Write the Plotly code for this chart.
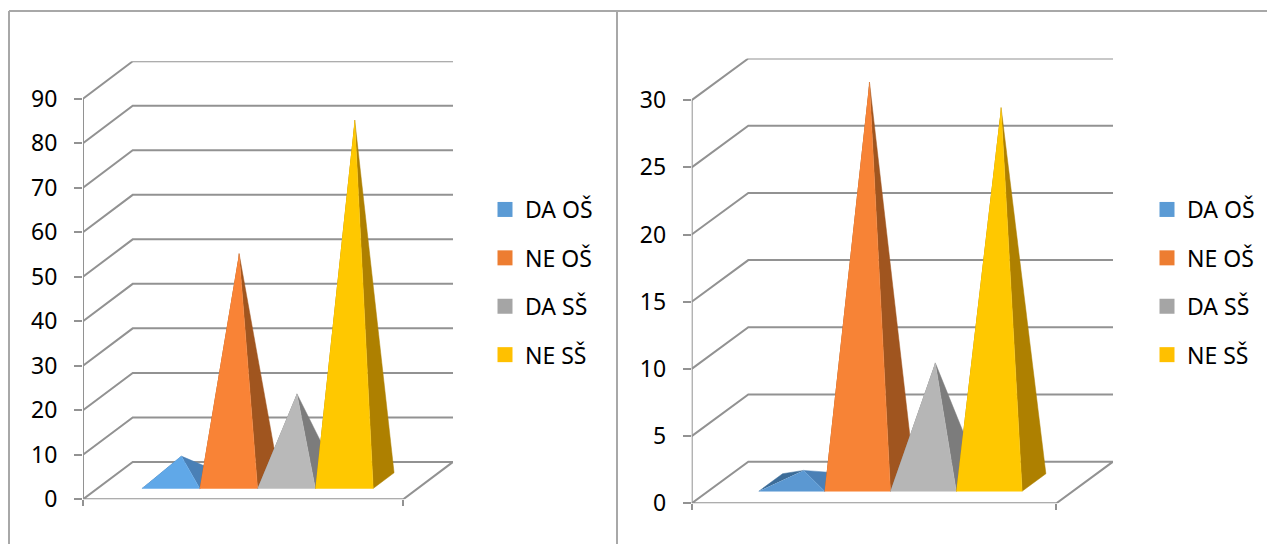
import plotly.graph_objects as go

W, H = 1267, 544

series_names = ["DA OŠ", "NE OŠ", "DA SŠ", "NE SŠ"]
left_values = [5.5, 51, 19.5, 81]
right_values = [0.9, 29.8, 8.9, 27.9]
left_ticks = [0, 10, 20, 30, 40, 50, 60, 70, 80, 90]
right_ticks = [0, 5, 10, 15, 20, 25, 30]

front_colors_left = ["#60A8E8", "#F98336", "#B9B9B9", "#FFC800"]
front_colors_right = ["#5B98D2", "#F78336", "#B6B6B6", "#FFC800"]
side_colors = ["#4A80B6", "#A0551F", "#7C7C7C", "#AE8000"]
left_face_colors = ["#3C6C98", "#A0551F", "#7C7C7C", "#AE8000"]
legend_colors = ["#5B9BD5", "#ED7D31", "#A5A5A5", "#FFC000"]

GRID = "#929292"
FRAME = "#A8A8A8"
FONT = "Noto Sans"
TICK_SIZE = 23
GAP = 0.77
D_FRONT, D_BACK = 0.29, 0.71
DEPTH_X = 0.86
N = len(series_names)
FLOOR = 2 * GAP + N

fig = go.Figure()


def add_chart(idx, values, ticks, dom_x, dom_y, depth_v, front_colors, legend_pos):
    sfx = "" if idx == 1 else str(idx)
    xa, ya = "x" + sfx, "y" + sfx
    legend = "legend" + sfx
    top = ticks[-1]

    def px(c, d):
        return c + d * DEPTH_X

    def py(v, d):
        return v + d * depth_v

    def line(xs, ys):
        fig.add_trace(go.Scatter(x=xs, y=ys, xaxis=xa, yaxis=ya, mode="lines",
                                 line=dict(color=GRID, width=2), hoverinfo="skip",
                                 showlegend=False, cliponaxis=False))

    # walls
    for t in ticks[1:]:
        line([px(0, 0), px(0, 1), px(FLOOR, 1)], [py(t, 0), py(t, 1), py(t, 1)])
    # vertical front axis and floor
    line([px(0, 0), px(0, 0)], [0, top])
    line([px(0, 0), px(FLOOR, 0), px(FLOOR, 1), px(0, 1), px(0, 0)],
         [py(0, 0), py(0, 0), py(0, 1), py(0, 1), py(0, 0)])

    def face(xs, ys, color):
        fig.add_trace(go.Scatter(x=xs, y=ys, xaxis=xa, yaxis=ya, mode="lines",
                                 fill="toself", fillcolor=color,
                                 line=dict(color=color, width=0.5), hoverinfo="skip",
                                 showlegend=False, cliponaxis=False))

    for i, v in enumerate(values):
        c0, c1 = GAP + i, GAP + i + 1
        ax, ay = px((c0 + c1) / 2, 0.5), py(v, 0.5)
        face([px(c0, D_FRONT), px(c0, D_BACK), ax],
             [py(0, D_FRONT), py(0, D_BACK), ay], left_face_colors[i])
        face([px(c1, D_FRONT), px(c1, D_BACK), ax],
             [py(0, D_FRONT), py(0, D_BACK), ay], side_colors[i])
        face([px(c0, D_FRONT), px(c1, D_FRONT), ax],
             [py(0, D_FRONT), py(0, D_FRONT), ay], front_colors[i])

    # legend entries
    for i, name in enumerate(series_names):
        fig.add_trace(go.Scatter(x=[None], y=[None], xaxis=xa, yaxis=ya, mode="markers",
                                 name=name, legend=legend, legendgroup=f"{idx}-{i}",
                                 marker=dict(symbol="square", size=15, color=legend_colors[i])))

    fig.update_layout({
        "xaxis" + sfx: dict(domain=[dom_x[0] / W, dom_x[1] / W], range=[0, FLOOR + DEPTH_X],
                            showgrid=False, zeroline=False, showticklabels=False, showline=False,
                            tickmode="array", tickvals=[0, FLOOR], ticks="outside", ticklen=6,
                            tickwidth=2, tickcolor=GRID, anchor=ya, fixedrange=True, automargin=False),
        "yaxis" + sfx: dict(domain=[1 - dom_y[1] / H, 1 - dom_y[0] / H], range=[0, top + depth_v],
                            showgrid=False, zeroline=False, showline=False,
                            tickmode="array", tickvals=ticks, ticks="outside", ticklen=8,
                            tickwidth=2, tickcolor=GRID, anchor=xa, fixedrange=True, automargin=False,
                            ticklabelstandoff=12,
                            tickfont=dict(family=FONT, size=TICK_SIZE, color="#000000")),
        legend: dict(x=legend_pos[0] / W, y=1 - legend_pos[1] / H, xanchor="left", yanchor="top",
                     bgcolor="rgba(0,0,0,0)", tracegroupgap=15.5, itemclick=False, itemdoubleclick=False,
                     font=dict(family=FONT, size=23, color="#000000")),
    })


add_chart(1, left_values, left_ticks, (83, 453), (61.3, 499.3), 8.4, front_colors_left, (485, 188))
add_chart(2, right_values, right_ticks, (691.7, 1113), (58.5, 503.3), 3.1, front_colors_right, (1147, 188))

frame = dict(color=FRAME, width=2)
for x0, y0, x1, y1 in [(9, 11, 1267, 11), (9, 11, 9, 544), (617, 11, 617, 544)]:
    fig.add_shape(type="line", xref="paper", yref="paper", x0=x0 / W, x1=x1 / W,
                  y0=1 - y0 / H, y1=1 - y1 / H, line=frame)

fig.update_layout(width=W, height=H, margin=dict(l=0, r=0, t=0, b=0),
                  paper_bgcolor="white", plot_bgcolor="white", showlegend=True,
                  font=dict(family=FONT), hovermode=False)

fig.write_html("out.html", config={"displayModeBar": False},
               post_script="document.body.style.margin='0';")
